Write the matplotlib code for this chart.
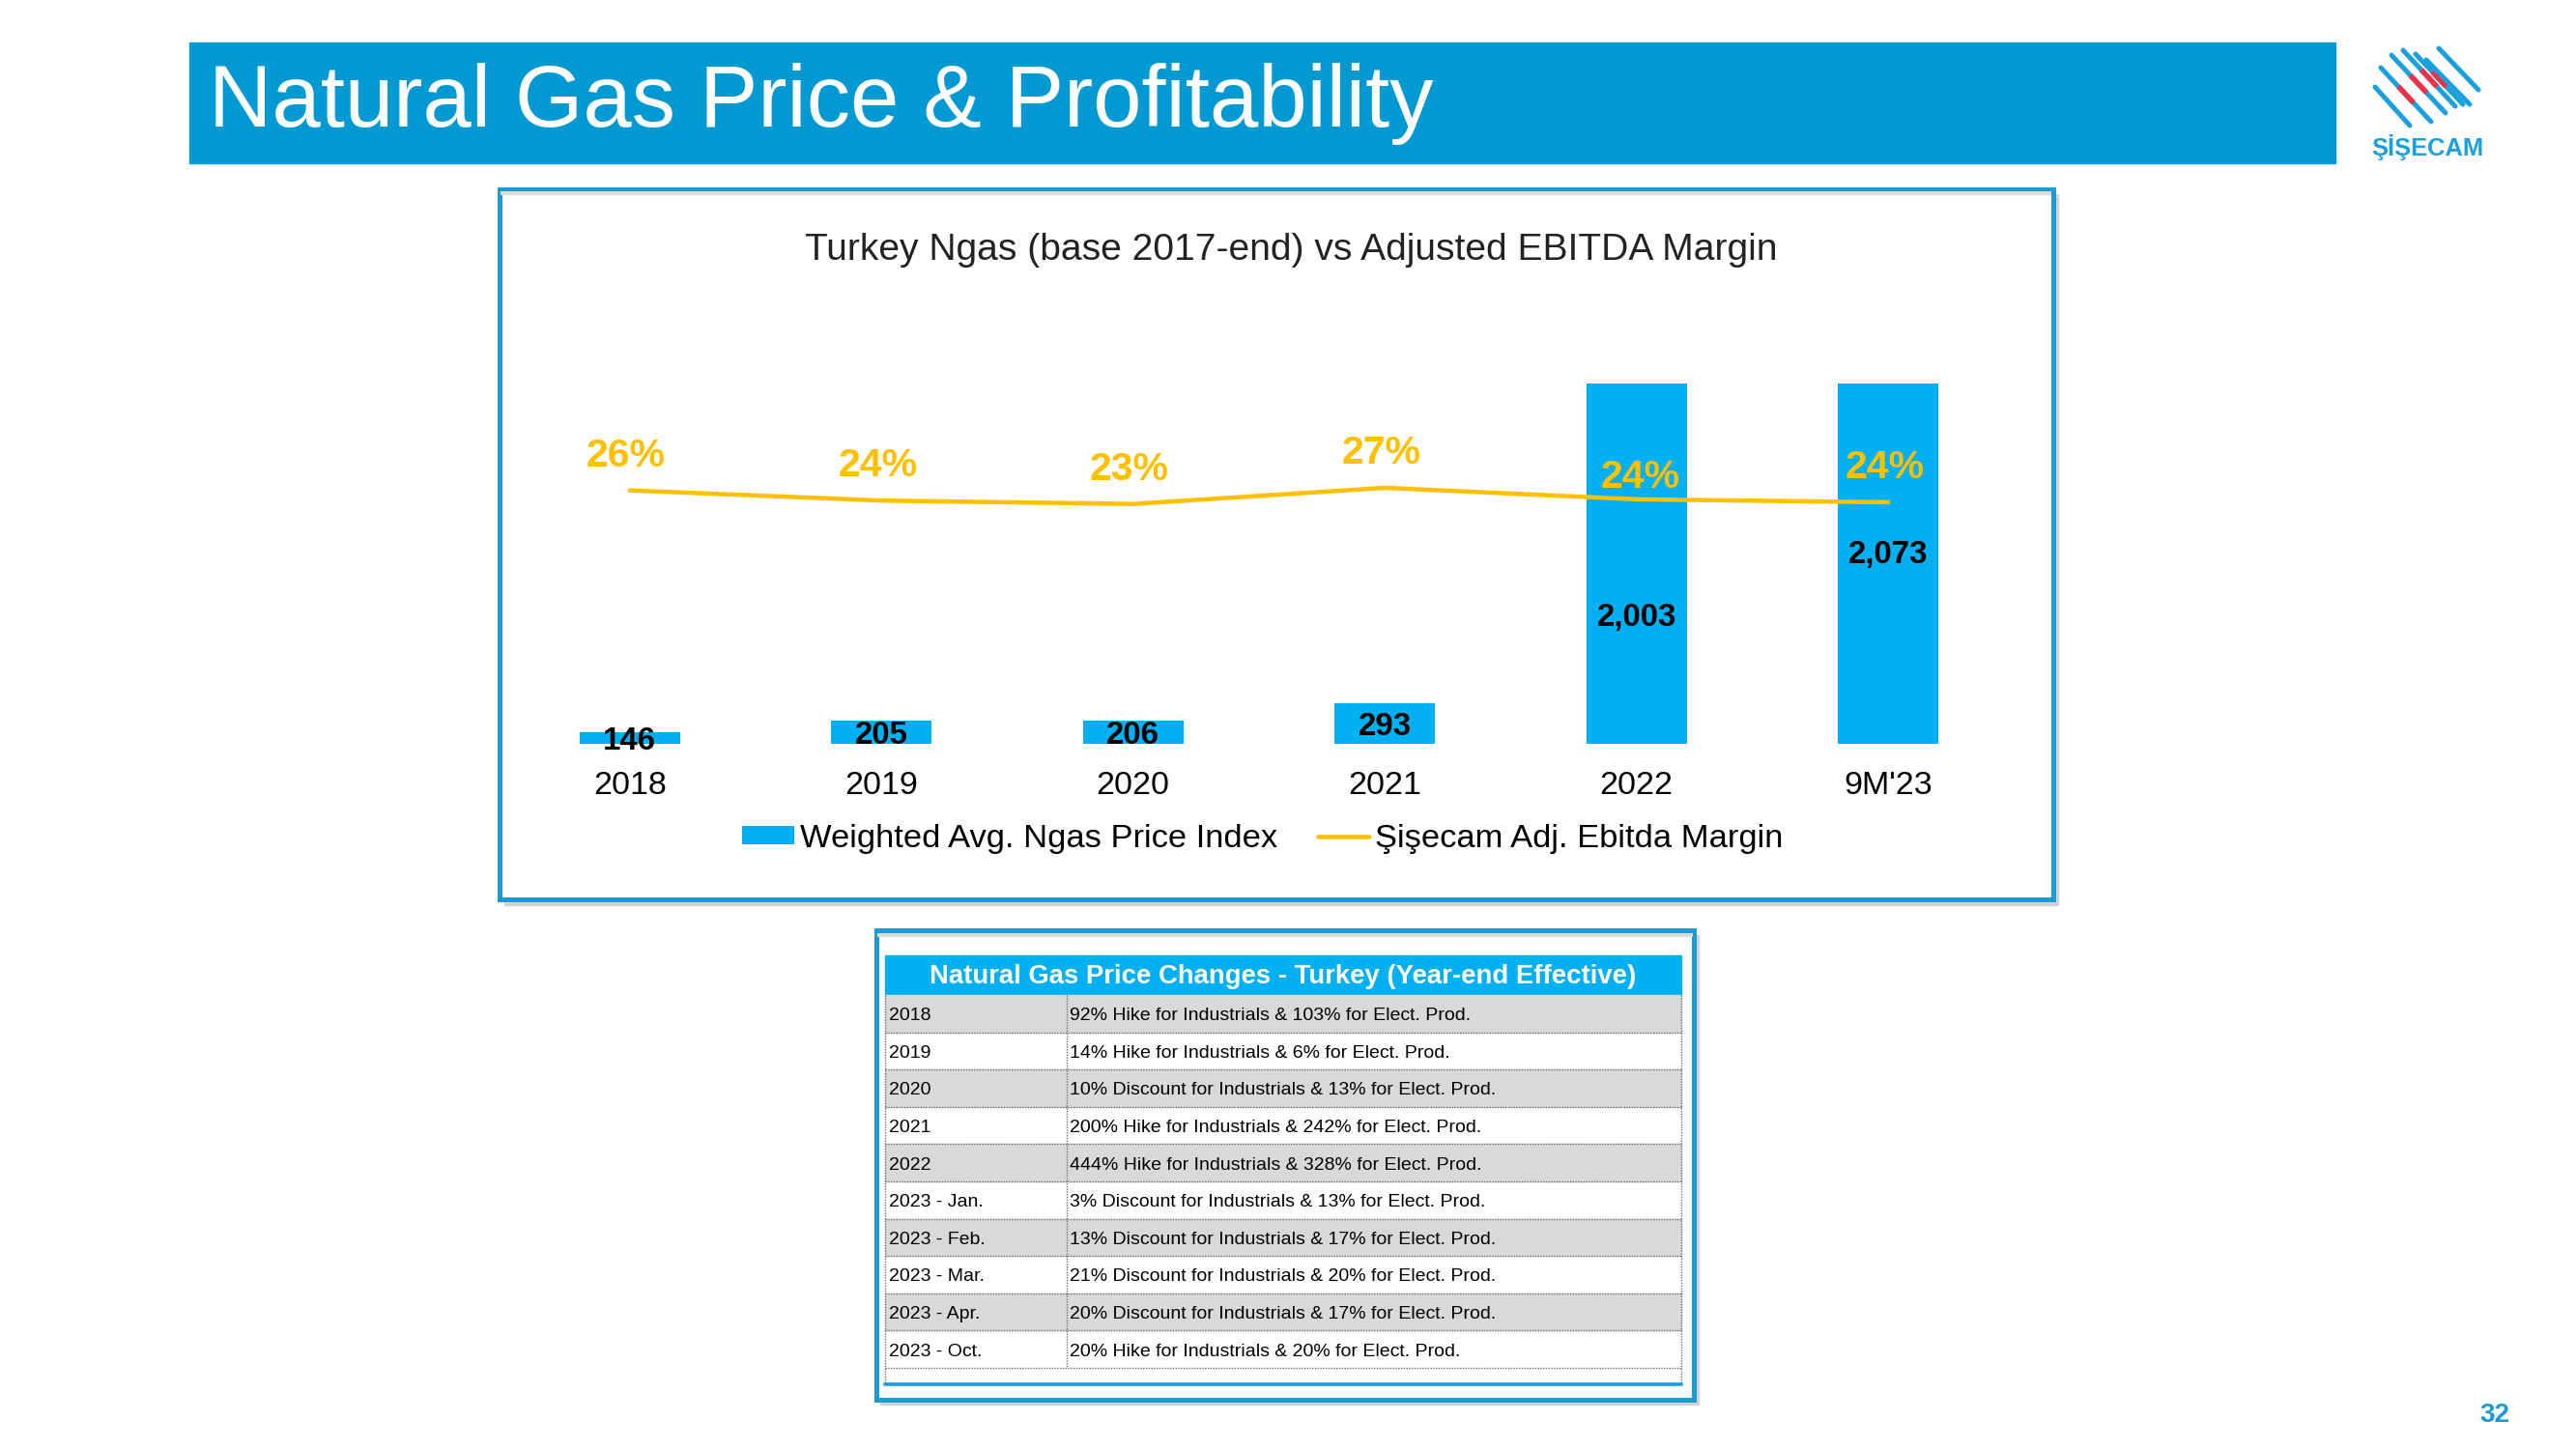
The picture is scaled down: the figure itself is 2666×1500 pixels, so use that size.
import matplotlib.pyplot as plt
from matplotlib.patches import Rectangle
import numpy as np

# Chart data
categories = ["2018", "2019", "2020", "2021", "2022", "9M'23"]
ngas_index = [146, 205, 206, 293, 2003, 2073]
ebitda_margin = [26.4, 24.0, 23.2, 27.0, 24.3, 23.6]

# Table data
periods = ["2018", "2019", "2020", "2021", "2022",
           "2023 - Jan.", "2023 - Feb.", "2023 - Mar.", "2023 - Apr.", "2023 - Oct."]
changes = [
    "92% Hike for Industrials & 103% for Elect. Prod.",
    "14% Hike for Industrials & 6% for Elect. Prod.",
    "10% Discount for Industrials & 13% for Elect. Prod.",
    "200% Hike for Industrials & 242% for Elect. Prod.",
    "444% Hike for Industrials & 328% for Elect. Prod.",
    "3% Discount for Industrials & 13% for Elect. Prod.",
    "13% Discount for Industrials & 17% for Elect. Prod.",
    "21% Discount for Industrials & 20% for Elect. Prod.",
    "20% Discount for Industrials & 17% for Elect. Prod.",
    "20% Hike for Industrials & 20% for Elect. Prod.",
]

W, H = 2666, 1500
BAR_BLUE = '#00B0F0'
FRAME_BLUE = '#1B9BD6'
GOLD = '#FFC000'


def pt(px):
    # pixels -> points at dpi 100
    return px * 0.72


plt.rcParams['font.family'] = ['Liberation Sans', 'DejaVu Sans']

fig = plt.figure(figsize=(W / 100, H / 100), dpi=100)

# background layer in pixel coordinates for the slide decorations
bg = fig.add_axes([0, 0, 1, 1], zorder=0)
bg.set_xlim(0, W)
bg.set_ylim(H, 0)
bg.axis('off')

# header band
bg.add_patch(Rectangle((196, 44), 2221, 125, color='#0099D1'))
bg.text(216, 131, "Natural Gas Price & Profitability", color='white',
        fontsize=pt(90.5), va='baseline')

# logo
logo_lines = [((2458, 90), (2494, 130)), ((2464, 70), (2516, 126)),
              ((2475, 57), (2531, 117)), ((2487, 52), (2541, 110)),
              ((2500, 56), (2549, 108)), ((2511, 62), (2556, 108)),
              ((2524, 50), (2565, 93))]
for k, ((x0, y0), (x1, y1)) in enumerate(logo_lines):
    bg.plot([x0, x1], [y0, y1], color='#1AA0DA', lw=pt(5), solid_capstyle='round')
    if 1 <= k <= 4:
        bg.plot([x0 + 0.35 * (x1 - x0), x0 + 0.65 * (x1 - x0)],
                [y0 + 0.35 * (y1 - y0), y0 + 0.65 * (y1 - y0)],
                color='#E8334A', lw=pt(5.5), solid_capstyle='butt')
bg.text(2512, 153, "ŞİŞECAM", color='#1AA0DA', fontsize=pt(25.5),
        fontweight='bold', ha='center', va='center')

# page number
bg.text(2582, 1465, "32", color='#1A9AD6', fontsize=pt(28),
        fontweight='bold', ha='center', va='center')

# chart frame with soft shadow
bg.add_patch(Rectangle((522, 201), 1608, 736, color='#D2D2D2'))
bg.add_patch(Rectangle((516.7, 195.8), 1607.8, 735.2, fc='white',
                       ec=FRAME_BLUE, lw=pt(5)))
bg.plot([520, 2121], [200, 200], color='#DADADA', lw=pt(4))
bg.text(1336, 269, "Turkey Ngas (base 2017-end) vs Adjusted EBITDA Margin",
        fontsize=pt(39), color='#222222', ha='center', va='baseline')

# table frame with shadow
bg.add_patch(Rectangle((911, 968), 847, 486, color='#D2D2D2'))
bg.add_patch(Rectangle((906.5, 963.3), 846.5, 485.2, fc='white',
                       ec=FRAME_BLUE, lw=pt(5)))
bg.plot([910, 1750], [968, 968], color='#DADADA', lw=pt(4))

tx0, tx1, tcol = 916, 1740, 1104
head_top, head_bot = 989, 1030
rowh = 38.6
bg.add_patch(Rectangle((tx0, head_top), tx1 - tx0, head_bot - head_top, color=BAR_BLUE))
bg.text((tx0 + tx1) / 2, 1018.5,
        "Natural Gas Price Changes - Turkey (Year-end Effective)",
        color='white', fontweight='bold', fontsize=pt(27.5), ha='center', va='baseline')

dotted = dict(ls=(0, (1, 1)), color='#6E6E6E', lw=1.0)
for i, (p, c) in enumerate(zip(periods, changes)):
    top = head_bot + i * rowh
    if i % 2 == 0:
        bg.add_patch(Rectangle((tx0, top), tx1 - tx0, rowh, color='#D9D9D9'))
    bg.plot([tx0, tx1], [top + rowh, top + rowh], **dotted)
    bg.text(tx0 + 4, top + 0.68 * rowh, p, fontsize=pt(19.5), va='baseline')
    bg.text(tcol + 3, top + 0.68 * rowh, c, fontsize=pt(19.5), va='baseline')
table_bot = head_bot + len(periods) * rowh
bg.plot([tcol, tcol], [head_bot, table_bot], **dotted)
bg.plot([tx0, tx0], [head_bot, 1432], **dotted)
bg.plot([tx1, tx1], [head_bot, 1432], **dotted)
bg.plot([tx0, tx1], [1433, 1433], color=FRAME_BLUE, lw=pt(3.5))

# the combo chart
ax = fig.add_axes([521.45 / W, 1 - 769.5 / H, 1563 / W, 372.8 / H], zorder=2)
ax.set_facecolor('none')
x = np.arange(len(categories))
bars = ax.bar(x, ngas_index, width=0.4, color=BAR_BLUE,
              label='Weighted Avg. Ngas Price Index')
ymin = 87
ax.set_xlim(-0.5, 5.5)
ax.set_ylim(ymin, 1951)

label_shift = [0, 0, 0, 0, -58, 0]  # px, 2022 label sits lower in the source
for xi, v, s in zip(x, ngas_index, label_shift):
    ax.annotate(f"{v:,}", (xi, (v + ymin) / 2), xytext=(0, pt(s - 4)),
                textcoords='offset points', ha='center', va='center',
                fontsize=pt(33), fontweight='bold', color='black',
                annotation_clip=False)

ax.set_xticks(x, categories)
ax.tick_params(axis='x', length=0, pad=pt(28), labelsize=pt(34), labelcolor='black')
ax.set_yticks([])
for s in ax.spines.values():
    s.set_visible(False)

ax2 = ax.twinx()
line, = ax2.plot(x, ebitda_margin, color=GOLD, lw=pt(4.5), solid_capstyle='round',
                 label='Şişecam Adj. Ebitda Margin')
ax2.set_ylim(-33.1, 51.6)
ax2.set_yticks([])
for s in ax2.spines.values():
    s.set_visible(False)

pct_dx = [-4, -4, -4, -4, 4, -4]
pct_dy = [36, 36, 36, 36, 23, 36]
for xi, m, dx, dy in zip(x, ebitda_margin, pct_dx, pct_dy):
    ax2.annotate(f"{round(m)}%", (xi, m), xytext=(pt(dx), pt(dy)),
                 textcoords='offset points', ha='center', va='center',
                 fontsize=pt(41), fontweight='bold', color=GOLD)

fig.legend(handles=[bars, line], loc='center',
           bbox_to_anchor=(1307 / W, 1 - 868 / H), ncol=2, frameon=False,
           fontsize=pt(34.5), handlelength=1.55, handleheight=0.46,
           handletextpad=0.18, columnspacing=1.2, borderpad=0, borderaxespad=0)

fig.savefig('out.png', dpi=100)
